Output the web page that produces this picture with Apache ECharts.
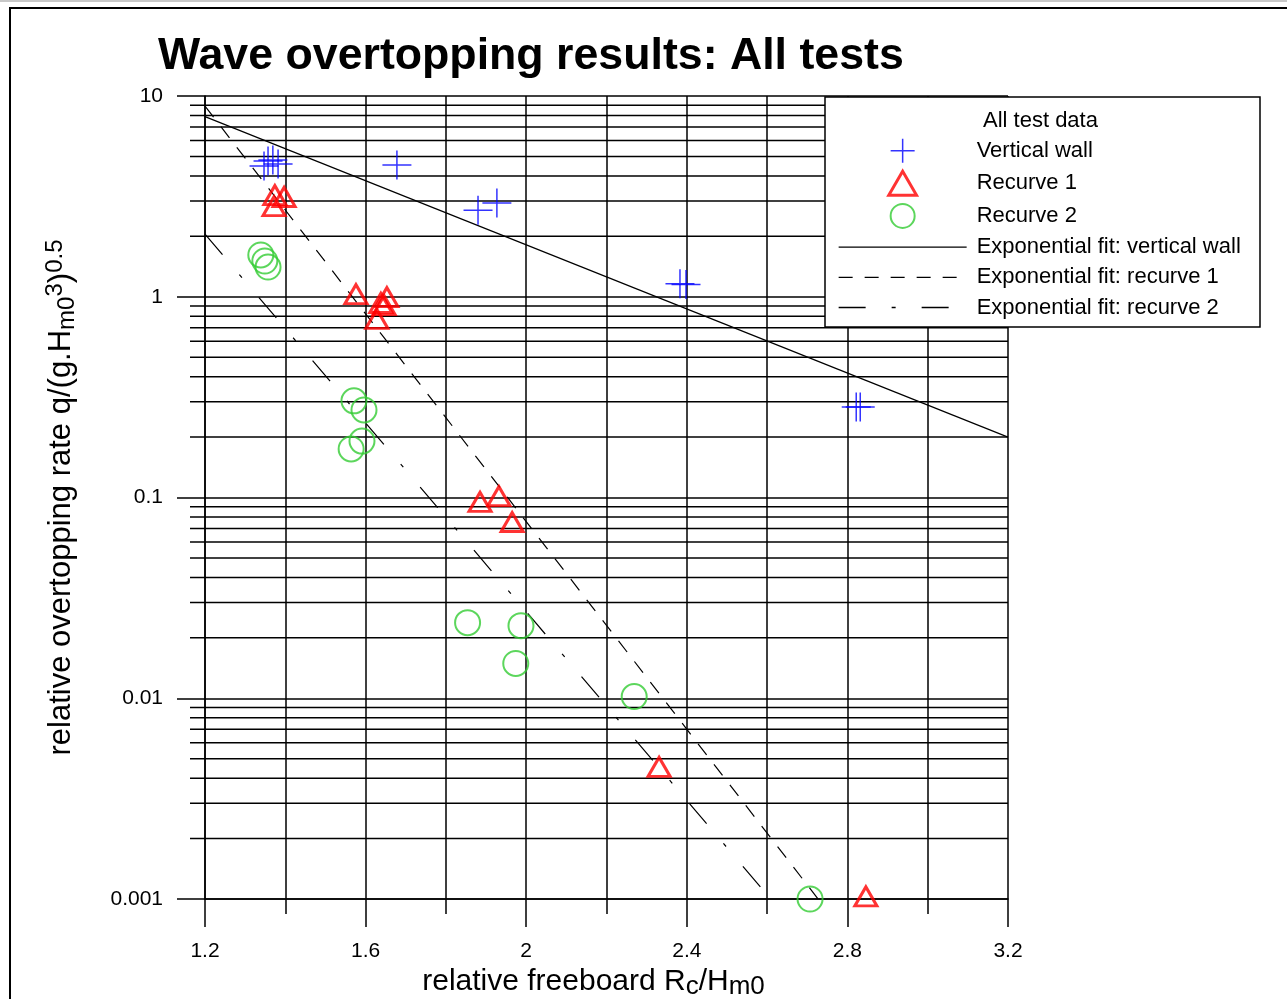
<!DOCTYPE html>
<html>
<head>
<meta charset="utf-8">
<title>Wave overtopping results: All tests</title>
<script src="https://cdn.jsdelivr.net/npm/echarts@6/dist/echarts.min.js"></script>
<style>
  html, body { margin: 0; padding: 0; background: #ffffff; }
  #chart { width: 1287px; height: 999px; }
</style>
</head>
<body>
<div id="chart"></div>
<script>
// ---- Axis ticks ----
const xTickValues = [1.2, 1.6, 2.0, 2.4, 2.8, 3.2];
const xTickLabels = ['1.2', '1.6', '2', '2.4', '2.8', '3.2'];
const yTickValues = [0.001, 0.01, 0.1, 1, 10];
const yTickLabels = ['0.001', '0.01', '0.1', '1', '10'];
// intermediate log grid lines, 2..9 in each decade
const yMinorValues = [
  0.002, 0.003, 0.004, 0.005, 0.006, 0.007, 0.008, 0.009,
  0.02, 0.03, 0.04, 0.05, 0.06, 0.07, 0.08, 0.09,
  0.2, 0.3, 0.4, 0.5, 0.6, 0.7, 0.8, 0.9,
  2, 3, 4, 5, 6, 7, 8, 9
];

// ---- Measured results: relative freeboard Rc/Hm0 vs q/(g.Hm0^3)^0.5 ----
const wallRc = [1.347, 1.357, 1.369, 1.382, 1.678, 1.880, 1.927, 2.383, 2.398, 2.822, 2.832];
const wallQ  = [4.48, 4.74, 4.80, 4.58, 4.53, 2.70, 2.93, 1.16, 1.15, 0.282, 0.282];

const recurve1Rc = [1.374, 1.397, 1.372, 1.576, 1.653, 1.638, 1.646, 1.628, 1.885, 1.932, 1.965, 2.331, 2.846];
const recurve1Q  = [3.21, 3.14, 2.83, 1.03, 0.997, 0.931, 0.909, 0.775, 0.095, 0.1017, 0.0755, 0.00455, 0.00103];

const recurve2Rc = [1.339, 1.349, 1.357, 1.571, 1.596, 1.564, 1.591, 1.854, 1.987, 1.974, 2.269, 2.707];
const recurve2Q  = [1.615, 1.507, 1.406, 0.303, 0.273, 0.1745, 0.191, 0.0238, 0.0230, 0.0149, 0.0102, 0.001];

// ---- Exponential fits (straight on the log axis): end points ----
const fitWallRc = [1.2, 3.2];
const fitWallQ  = [7.89, 0.2];
const fitRecurve1Rc = [1.2, 2.727];
const fitRecurve1Q  = [8.9, 0.001];
const fitRecurve2Rc = [1.2, 2.6];
const fitRecurve2Q  = [2.05, 0.00105];

// ---- Legend names ----
const legendTitle = 'All test data';
const seriesNames = [
  'Vertical wall', 'Recurve 1', 'Recurve 2',
  'Exponential fit: vertical wall', 'Exponential fit: recurve 1', 'Exponential fit: recurve 2'
];

const FONT = '"Liberation Sans", Arial, Helvetica, sans-serif';
const INK = '#000000';
const GRID_W = 1.5;
const MAJOR_TICK = 28;
const MINOR_TICK = 15;
const xMin = xTickValues[0];
const xMax = xTickValues[xTickValues.length - 1];

const pairs = (xs, ys) => xs.map((x, i) => [x, ys[i]]);

const crossPath = 'path://M0,14L28,14M14,0L14,28';
const trianglePath = 'path://M11,0L22,19L0,19Z';
const hiddenDot = { color: 'transparent', borderColor: 'transparent', borderWidth: 0 };

const chart = echarts.init(document.getElementById('chart'), null, { renderer: 'canvas' });

const option = {
  animation: false,
  backgroundColor: '#ffffff',
  title: {
    text: 'Wave overtopping results: All tests',
    left: 158,
    top: 34,
    padding: 0,
    textStyle: { fontFamily: FONT, fontSize: 44.7, fontWeight: 'bold', color: INK }
  },
  grid: { left: 205, right: 279, top: 96, bottom: 100, containLabel: false, outerBoundsMode: 'none' },
  xAxis: {
    type: 'value',
    min: xMin,
    max: xMax,
    interval: 0.4,
    name: '{n|relative freeboard R}{s|c}{n|/H}{e|m0}',
    nameLocation: 'middle',
    nameGap: 56,
    nameTextStyle: {
      fontFamily: FONT, color: INK,
      rich: {
        n: { fontFamily: FONT, fontSize: 30, lineHeight: 36, color: INK },
        s: { fontFamily: FONT, fontSize: 26, lineHeight: 26, verticalAlign: 'bottom', color: INK },
        e: { fontFamily: FONT, fontSize: 26, lineHeight: 26, verticalAlign: 'bottom', color: INK, padding: [0, 26, 0, 0] }
      }
    },
    axisLine: { show: true, onZero: false, lineStyle: { color: INK, width: GRID_W } },
    axisTick: { show: true, length: MAJOR_TICK, lineStyle: { color: INK, width: GRID_W } },
    minorTick: { show: true, splitNumber: 2, length: MINOR_TICK, lineStyle: { color: INK, width: GRID_W } },
    splitLine: { show: true, lineStyle: { color: INK, width: GRID_W } },
    minorSplitLine: { show: true, lineStyle: { color: INK, width: GRID_W } },
    axisLabel: {
      margin: 42,
      fontFamily: FONT, fontSize: 21, color: INK,
      formatter: function (v) {
        const i = xTickValues.findIndex(t => Math.abs(t - v) < 1e-6);
        return i >= 0 ? xTickLabels[i] : '';
      }
    }
  },
  yAxis: {
    type: 'log',
    logBase: 10,
    min: yTickValues[0],
    max: yTickValues[yTickValues.length - 1],
    splitNumber: 4,
    name: '{n|relative overtopping rate q/(g.H}{s|m0}{p|3}{n|)}{p|0.5}',
    nameLocation: 'middle',
    nameRotate: 90,
    nameGap: 126,
    nameTextStyle: {
      fontFamily: FONT, color: INK,
      rich: {
        n: { fontFamily: FONT, fontSize: 31, lineHeight: 36, color: INK },
        s: { fontFamily: FONT, fontSize: 24, lineHeight: 24, verticalAlign: 'bottom', color: INK },
        p: { fontFamily: FONT, fontSize: 24, lineHeight: 24, verticalAlign: 'top', color: INK }
      }
    },
    axisLine: { show: true, lineStyle: { color: INK, width: GRID_W } },
    axisTick: { show: true, length: MAJOR_TICK, lineStyle: { color: INK, width: GRID_W } },
    minorTick: { show: false },
    splitLine: { show: true, lineStyle: { color: INK, width: GRID_W } },
    axisLabel: {
      margin: 42,
      fontFamily: FONT, fontSize: 21, color: INK,
      formatter: function (v) {
        const i = yTickValues.findIndex(t => Math.abs(Math.log10(t) - Math.log10(v)) < 1e-6);
        return i >= 0 ? yTickLabels[i] : '';
      }
    }
  },
  legend: {
    orient: 'vertical',
    left: 838,
    top: 138,
    padding: 0,
    itemWidth: 128,
    itemHeight: 24,
    itemGap: 6.2,
    symbolKeepAspect: true,
    z: 6,
    selectedMode: false,
    textStyle: { fontFamily: FONT, fontSize: 22, lineHeight: 24, color: INK, padding: [0, 0, 0, 5] },
    data: [
      { name: seriesNames[0], itemStyle: { color: 'transparent', borderColor: '#0000ff', borderWidth: 1.5 } },
      { name: seriesNames[1], icon: trianglePath, itemStyle: { color: 'transparent', borderColor: '#ff0000', borderWidth: 3 } },
      { name: seriesNames[2], itemStyle: { color: 'transparent', borderColor: '#33cc33', borderWidth: 2 } },
      { name: seriesNames[3], lineStyle: { width: 1.3 }, itemStyle: hiddenDot },
      { name: seriesNames[4], lineStyle: { width: 1.3 }, itemStyle: hiddenDot },
      { name: seriesNames[5], lineStyle: { width: 1.3 }, itemStyle: hiddenDot }
    ]
  },
  graphic: {
    elements: [
      // page frame
      { type: 'line', z: 1, silent: true, shape: { x1: 0, y1: 1, x2: 1287, y2: 1 }, style: { stroke: '#c8c8c8', lineWidth: 2 } },
      { type: 'rect', z: 1, silent: true, shape: { x: 10, y: 8, width: 1300, height: 1010 }, style: { fill: 'none', stroke: INK, lineWidth: 2 } },
      // legend box
      { type: 'rect', z: 5, silent: true, shape: { x: 825, y: 97, width: 435, height: 230 }, style: { fill: '#ffffff', stroke: INK, lineWidth: 1.5 } },
      { type: 'text', z: 6, silent: true, left: 983, top: 110,
        style: { text: legendTitle, fontFamily: FONT, fontSize: 22, fill: INK } }
    ]
  },
  series: [
    {
      // intermediate horizontal grid lines of the log axis, with short ticks left of the axis
      type: 'custom',
      name: 'log grid',
      silent: true,
      clip: false,
      z: 1,
      data: yMinorValues.map(v => [xMin, v]),
      encode: { x: 0, y: 1 },
      renderItem: function (params, api) {
        const y = api.value(1);
        const a = api.coord([xMin, y]);
        const b = api.coord([xMax, y]);
        return {
          type: 'line',
          shape: { x1: a[0] - MINOR_TICK, y1: a[1], x2: b[0], y2: b[1] },
          style: { stroke: INK, lineWidth: GRID_W }
        };
      }
    },
    {
      name: seriesNames[3],
      type: 'line',
      data: pairs(fitWallRc, fitWallQ),
      symbol: 'none',
      z: 3,
      lineStyle: { color: INK, width: 1.2, type: 'solid' }
    },
    {
      name: seriesNames[4],
      type: 'line',
      data: pairs(fitRecurve1Rc, fitRecurve1Q),
      symbol: 'none',
      z: 3,
      lineStyle: { color: INK, width: 1.2, type: [14, 12] }
    },
    {
      name: seriesNames[5],
      type: 'line',
      data: pairs(fitRecurve2Rc, fitRecurve2Q),
      symbol: 'none',
      z: 3,
      lineStyle: { color: INK, width: 1.2, type: [27, 26, 4, 26] }
    },
    {
      name: seriesNames[0],
      type: 'scatter',
      data: pairs(wallRc, wallQ),
      symbol: crossPath,
      symbolSize: 29,
      z: 4,
      itemStyle: { color: 'transparent', borderColor: '#0000ff', borderWidth: 1.5 }
    },
    {
      name: seriesNames[1],
      type: 'scatter',
      data: pairs(recurve1Rc, recurve1Q),
      symbol: 'triangle',
      symbolSize: [22, 19],
      z: 4,
      clip: false,
      itemStyle: { color: 'transparent', borderColor: '#ff0000', borderWidth: 3 }
    },
    {
      name: seriesNames[2],
      type: 'scatter',
      data: pairs(recurve2Rc, recurve2Q),
      symbol: 'circle',
      symbolSize: 25,
      z: 4,
      clip: false,
      itemStyle: { color: 'transparent', borderColor: '#33cc33', borderWidth: 2 }
    }
  ]
};

chart.setOption(option);
</script>
</body>
</html>
